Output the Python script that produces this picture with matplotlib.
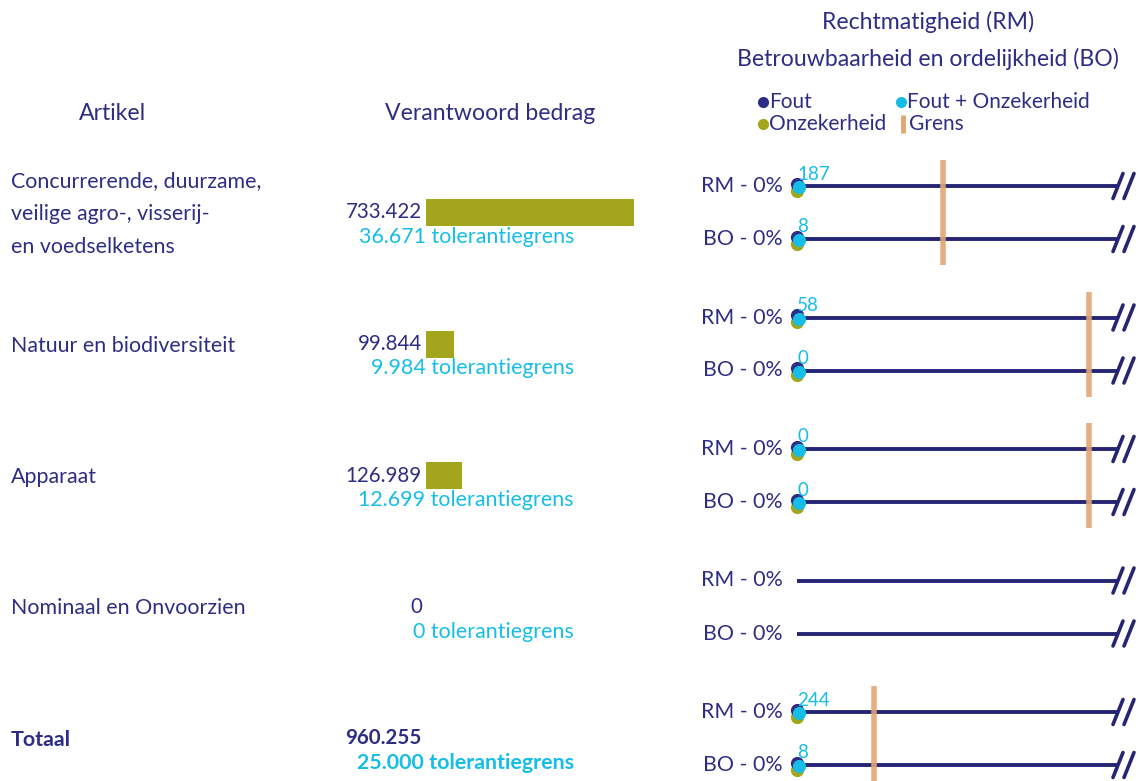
import matplotlib
matplotlib.use("Agg")
import matplotlib.pyplot as plt
import numpy as np

# --------------------------------------------------------------------------- #
# Data                                                                        #
# --------------------------------------------------------------------------- #

artikelen = [
    "Concurrerende, duurzame,\nveilige agro-, visserij-\nen voedselketens",
    "Natuur en biodiversiteit",
    "Apparaat",
    "Nominaal en Onvoorzien",
    "Totaal",
]
bedrag = ["733.422", "99.844", "126.989", "0", "960.255"]
bedrag_waarde = [733.422, 99.844, 126.989, 0.0]   # balken (geen balk voor totaal)
tolerantie = ["36.671", "9.984", "12.699", "0", "25.000"]

rm_pct = ["0%", "0%", "0%", "0%", "0%"]
bo_pct = ["0%", "0%", "0%", "0%", "0%"]
rm_fout_onz = [187, 58, 0, None, 244]
bo_fout_onz = [8, 0, 0, None, 8]
# positie van de grens op de as (0-100), geen grens voor nominaal
grens_positie = [45.6, 91.3, 91.3, np.nan, 24.1]

# --------------------------------------------------------------------------- #
# Style                                                                       #
# --------------------------------------------------------------------------- #

NAVY = "#2d2e83"
LINE = "#262573"
CYAN = "#16bde6"
OLIVE = "#a3a51c"
GRENS = "#e3a673"
FONT = "Lato"
FS_HEAD = 16.6
FS = 15.4

plt.rcParams["font.family"] = [FONT, "DejaVu Sans"]

W, H = 1138, 781
fig = plt.figure(figsize=(W / 100, H / 100), dpi=100)

# layout in pixels
ROW0, STEP, HALF = 212.5, 131.5, 26.5
row_y = [ROW0 + i * STEP for i in range(len(artikelen))]
BAR_L, BAR_W = 426, 208
LINE_L, LINE_R = 797, 1117


def _axes(left, width):
    a = fig.add_axes([left / W, 0, width / W, 1])
    a.set_ylim(H, 0)
    a.axis("off")
    return a


ax = _axes(0, W)
ax.set_xlim(0, W)

# headers
ax.text(928, 22, "Rechtmatigheid (RM)", ha="center", va="center",
        fontsize=FS_HEAD, color=NAVY)
ax.text(928, 59, "Betrouwbaarheid en ordelijkheid (BO)", ha="center",
        va="center", fontsize=FS_HEAD, color=NAVY)
ax.text(113, 113, "Artikel", ha="center", va="center", fontsize=FS_HEAD,
        color=NAVY)
ax.text(490, 113, "Verantwoord bedrag", ha="center", va="center",
        fontsize=FS_HEAD, color=NAVY)

# legend
leg = [(763, 102, NAVY, "Fout"), (901, 102, CYAN, "Fout + Onzekerheid"),
       (763, 124, OLIVE, "Onzekerheid")]
for x, y, c, t in leg:
    ax.plot([x], [y], "o", ms=7, color=c, clip_on=False)
    ax.text(x + 6, y, t, ha="left", va="center", fontsize=15, color=NAVY)
ax.plot([903, 903], [115, 133], color=GRENS, lw=3.5, solid_capstyle="butt")
ax.text(909, 124, "Grens", ha="left", va="center", fontsize=15, color=NAVY)

# left columns
for i, (naam, yc) in enumerate(zip(artikelen, row_y)):
    bold = "bold" if naam == "Totaal" else "normal"
    ax.text(11, yc + 1.5, naam, ha="left", va="center", fontsize=FS,
            color=NAVY, linespacing=1.8, fontweight=bold)
    ax.text(422, yc, bedrag[i], ha="right", va="center", fontsize=FS - 0.6,
            color=NAVY, fontweight=bold)
    ax.text(574, yc + 24.5, f"{tolerantie[i]} tolerantiegrens", ha="right",
            va="center", fontsize=FS, color=CYAN, fontweight=bold)
    ax.text(783, yc - HALF, f"RM - {rm_pct[i]}", ha="right", va="center",
            fontsize=FS, color=NAVY)
    ax.text(783, yc + HALF, f"BO - {bo_pct[i]}", ha="right", va="center",
            fontsize=FS, color=NAVY)

# bars
axb = _axes(BAR_L, BAR_W)
axb.set_xlim(0, max(bedrag_waarde))
axb.barh(row_y[:len(bedrag_waarde)], bedrag_waarde, height=27, color=OLIVE)

# RM / BO lines
axl = _axes(LINE_L, W - LINE_L)
scale = 100 / (LINE_R - LINE_L)          # axis units per pixel
axl.set_xlim(0, (W - LINE_L) * scale)
for i, yc in enumerate(row_y):
    for y, val in ((yc - HALF, rm_fout_onz[i]), (yc + HALF, bo_fout_onz[i])):
        axl.plot([0, 100], [y, y], color=LINE, lw=2.8, solid_capstyle="butt")
        for dx in (0, 11):
            x0 = 100 + (dx - 4) * scale
            axl.plot([x0, x0 + 10 * scale], [y + 12.5, y - 12.5], color=LINE,
                     lw=2.6, solid_capstyle="round")
        if val is None:
            continue
        axl.plot([0], [y + 4.5], "o", ms=8.5, color=OLIVE, clip_on=False)
        axl.plot([0], [y - 2.5], "o", ms=8.5, color=NAVY, clip_on=False)
        axl.plot([0.5], [y + 1], "o", ms=8.5, color=CYAN, clip_on=False)
        axl.text(0, y - 12, str(val), ha="left", va="center",
                 fontsize=13.5, color=CYAN)
    g = grens_positie[i]
    if not np.isnan(g):
        axl.plot([g, g], [yc - 52.5, yc + 52.5], color=GRENS, lw=4,
                 alpha=0.9, solid_capstyle="butt", clip_on=False)

fig.savefig("out.png", dpi=100)
